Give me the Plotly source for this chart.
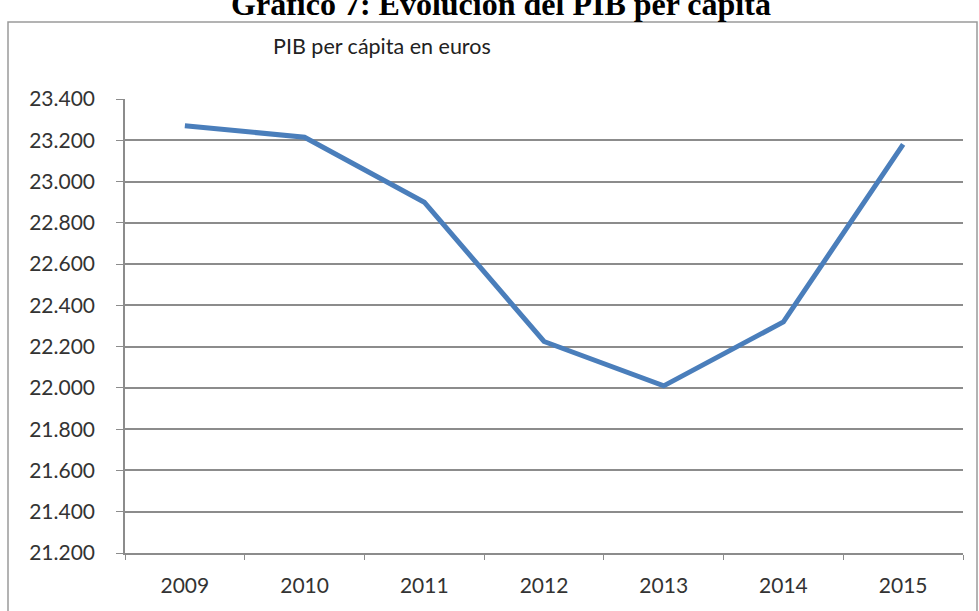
import plotly.graph_objects as go

# PIB per cápita (euros) por año
years = ["2009", "2010", "2011", "2012", "2013", "2014", "2015"]
pib_per_capita = [23270, 23215, 22900, 22225, 22010, 22320, 23180]

y_min, y_max, y_step = 21200, 23400, 200

W, H = 979, 611
m_l, m_r, m_t, m_b = 125, 16, 99, 58
plot_w = W - m_l - m_r
plot_h = H - m_t - m_b

fig = go.Figure(
    go.Scatter(
        x=years,
        y=pib_per_capita,
        mode="lines",
        line=dict(color="#4A7EBB", width=5),
        hoverinfo="x+y",
    )
)

axis_font = dict(family="Lato, 'Open Sans', sans-serif", size=21, color="#333333")

fig.update_xaxes(
    type="category",
    range=[-0.5, len(years) - 0.5],
    showline=True,
    linecolor="#8C8C8C",
    linewidth=1.5,
    ticks="outside",
    tickson="boundaries",
    ticklen=5,
    tickcolor="#8C8C8C",
    showgrid=False,
    tickfont=axis_font,
    ticklabelstandoff=13,
    automargin=False,
)
fig.update_yaxes(
    range=[y_min, y_max],
    dtick=y_step,
    tick0=y_min,
    tickformat=",.0f",
    showline=True,
    linecolor="#8C8C8C",
    linewidth=1.5,
    ticks="outside",
    ticklen=7,
    tickcolor="#8C8C8C",
    showgrid=True,
    gridcolor="#8C8C8C",
    gridwidth=1.5,
    zeroline=False,
    tickfont=axis_font,
    ticklabelstandoff=17,
    automargin=False,
)

# Marco exterior del gráfico (en coordenadas relativas al área de trazado)
frame_left, frame_right, frame_top = 8, 977, 22
fig.add_shape(
    type="rect",
    xref="paper",
    yref="paper",
    x0=(frame_left - m_l) / plot_w,
    x1=(frame_right - m_l) / plot_w,
    y0=-0.3,
    y1=(H - m_b - frame_top) / plot_h,
    line=dict(color="#9A9A9A", width=1.5),
    fillcolor="rgba(0,0,0,0)",
    layer="below",
)

# Título interno del gráfico
fig.add_annotation(
    text="PIB per cápita en euros",
    xref="paper",
    yref="paper",
    x=(271 - m_l) / plot_w,
    xanchor="left",
    y=(H - m_b - 46) / plot_h,
    yanchor="middle",
    showarrow=False,
    font=dict(family="Lato, 'Open Sans', sans-serif", size=21.5, color="#222222"),
)

fig.update_layout(
    width=W,
    height=H,
    margin=dict(l=m_l, r=m_r, t=m_t, b=m_b),
    paper_bgcolor="white",
    plot_bgcolor="white",
    separators=",.",
    showlegend=False,
    title=dict(
        text="<b>Gráfico 7: Evolución del PIB per cápita</b>",
        xref="container",
        yref="container",
        x=501 / W,
        xanchor="center",
        y=1 - 15 / H,
        yanchor="bottom",
        font=dict(family="'Liberation Serif', 'Times New Roman', serif", size=32, color="black"),
    ),
)

fig.write_html("out.html")
